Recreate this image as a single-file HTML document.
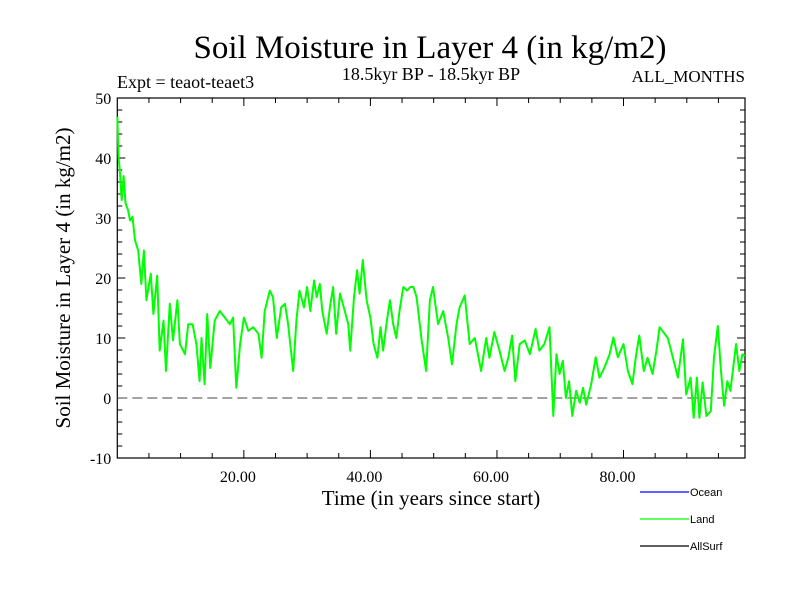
<!DOCTYPE html>
<html><head><meta charset="utf-8"><style>
body{margin:0;background:#fff}
svg{display:block}
.serif{font-family:"Liberation Serif",serif}
.sans{font-family:"Liberation Sans",sans-serif}
</style></head><body>
<svg id="chart" width="800" height="600">
<text class="serif" x="430" y="58" font-size="33" text-anchor="middle">Soil Moisture in Layer 4 (in kg/m2)</text>
<text class="serif" x="431" y="80" font-size="18" text-anchor="middle">18.5kyr BP - 18.5kyr BP</text>
<text class="serif" x="117" y="88" font-size="18">Expt = teaot-teaet3</text>
<text class="serif" x="745" y="82" font-size="17" text-anchor="end">ALL_MONTHS</text>
<text class="serif" x="431" y="505" font-size="21" text-anchor="middle">Time (in years since start)</text>
<text class="serif" x="0" y="0" font-size="21" text-anchor="middle" transform="translate(70,278) rotate(-90)">Soil Moisture in Layer 4 (in kg/m2)</text>
<g id="ticks"></g>
<g id="series"></g>
<g>
<line x1="640" y1="492" x2="689" y2="492" stroke="#0000ff" stroke-width="1.2"/>
<text class="sans" x="690" y="496" font-size="11">Ocean</text>
<line x1="640" y1="519" x2="689" y2="519" stroke="#00ff00" stroke-width="1.2"/>
<text class="sans" x="690" y="523" font-size="11">Land</text>
<line x1="640" y1="546" x2="689" y2="546" stroke="#000" stroke-width="1.2"/>
<text class="sans" x="690" y="550" font-size="11">AllSurf</text>
</g>
</svg>
<script>
const years=[0,0.2,0.4,0.7,1,1.3,1.7,2,2.4,2.8,3.3,3.8,4.2,4.6,5.3,5.7,6.3,6.7,7.3,7.7,8.3,8.8,9.5,9.9,10.7,11.2,11.9,12.5,13,13.3,13.8,14.2,14.7,15.4,16.2,17,17.8,18.3,18.8,19.4,20,20.7,21.5,22.3,22.8,23.3,24.1,24.6,25.2,25.9,26.5,27,27.8,28.3,28.8,29.5,30,30.5,31.1,31.5,32,32.4,33.1,33.6,34.1,34.6,35.2,35.8,36.5,36.8,37.4,37.9,38.3,38.8,39.4,40,40.5,41.1,41.6,42,42.6,43.1,43.6,44.1,44.6,45.2,45.8,46.3,46.8,47.3,48.1,48.8,49.4,49.9,50.7,51.5,52.3,52.9,53.6,54.1,54.9,55.7,56.5,57.5,58.3,58.8,59.6,60.4,61.2,61.8,62.4,62.9,63.6,64.4,65.2,66.1,66.7,67.5,68.3,68.9,69.4,69.9,70.4,70.9,71.4,71.9,72.5,73.1,73.6,74.1,74.9,75.6,76.2,77,77.8,78.4,79.1,80,80.7,81.4,82,82.5,83.2,83.8,84.6,85.2,85.7,86.5,87,87.8,88.6,89.4,89.9,90.6,91.1,91.6,92,92.5,93.1,93.8,94.3,94.9,95.4,95.9,96.4,96.9,97.8,98.3,98.8,99.2];
const landValues=[46.9,40,38,33,37,32.5,31.3,29.6,30.2,26.3,24.6,19,24.6,16.3,20.7,14,20.4,7.9,12.9,4.5,15.7,9.6,16.3,9,7.3,12.3,12.3,9,2.8,10,2.3,14,5,12.9,14.5,13.4,12.3,13.4,1.7,9,13.4,11.2,11.8,10.7,6.7,14.5,17.9,16.8,10,15.1,15.7,12.3,4.5,12.9,17.9,15.1,18.5,14.5,19.6,16.8,19,14.5,10.7,15.1,18.5,10.7,17.4,15.1,12.3,7.9,16.8,21.3,17.4,23,16.3,13.4,9,6.7,11.8,7.9,12.9,16.3,12.3,10,14.5,18.5,17.9,18.5,18.5,16.8,9.6,4.5,16.3,18.5,12.3,14.5,10,5.6,12.3,15.1,17.1,9,10,4.5,10,6.7,11,7.9,4.5,6.7,10.4,2.8,9,9.6,7.3,11.5,7.9,9,11.8,-3,7.3,4,6.2,0,2.8,-3,1.2,-0.8,1.7,-1.1,2.3,6.8,3.4,5.1,7.3,10.1,6.8,9,4.5,2.3,7.3,10.4,4.5,6.7,4,7.9,11.8,10.7,10,6.7,3.4,9.8,0.6,3.4,-3.3,3.4,-3.3,2.6,-3,-2.2,6.8,12,4.5,-1.3,2.8,1.2,9,4.5,7.3,7];
const yTickLabels=["-10","0","10","20","30","40","50"];
const yTickValues=[-10,0,10,20,30,40,50];
const xTickLabels=["20.00","40.00","60.00","80.00"];
const xTickValues=[20,40,60,80];
const X0=117.3,X1=745,Y0=458,Y1=98,XMIN=0,XMAX=99.2,YMIN=-10,YMAX=50;
const xs=v=>X0+(v-XMIN)/(XMAX-XMIN)*(X1-X0);
const ys=v=>Y0-(v-YMIN)/(YMAX-YMIN)*(Y0-Y1);
const NS="http://www.w3.org/2000/svg";
const tg=document.getElementById('ticks');
function mk(tag,attrs,parent){const e=document.createElementNS(NS,tag);for(const k in attrs)e.setAttribute(k,attrs[k]);parent.appendChild(e);return e;}
const frame=mk('rect',{x:X0,y:Y1,width:X1-X0,height:Y0-Y1,fill:'none',stroke:'#000','stroke-width':1.2},tg);


for(let v=YMIN;v<=YMAX;v+=2){const major=(v%10===0);const L=major?8:5;
 const a=mk('line',{x1:X0,x2:X0+L,y1:ys(v),y2:ys(v),stroke:'#000'},tg);
 
 
 const b=mk('line',{x1:X1,x2:X1-L,y1:ys(v),y2:ys(v),stroke:'#000'},tg);
 
 }
for(let v=5;v<XMAX;v+=5){const major=(v%20===0);const L=major?8:5;
 const a=mk('line',{x1:xs(v),x2:xs(v),y1:Y0,y2:Y0-L,stroke:'#000'},tg);
 
 
 const b=mk('line',{x1:xs(v),x2:xs(v),y1:Y1,y2:Y1+L,stroke:'#000'},tg);
 
 }
yTickValues.forEach((v,i)=>{const t=mk('text',{x:X0-6,y:ys(v)+6,'font-size':16,'text-anchor':'end',class:'serif'},tg);t.textContent=yTickLabels[i];
 
 });
xTickValues.forEach((v,i)=>{const t=mk('text',{x:xs(v)-6,y:Y0+24,'font-size':16,'text-anchor':'middle',class:'serif'},tg);t.textContent=xTickLabels[i];
 
 });
const sg=document.getElementById('series');
const zl=mk('line',{x1:X0,x2:X1,y1:ys(0),y2:ys(0),stroke:'#444','stroke-dasharray':'10,5','stroke-width':1},sg);


const pts=years.map((y,i)=>xs(y).toFixed(1)+','+ys(landValues[i]).toFixed(1)).join(' ');
const pl=mk('polyline',{points:pts,fill:'none',stroke:'#00ff00','stroke-width':2,'stroke-linejoin':'round'},sg);


</script>
</body></html>
